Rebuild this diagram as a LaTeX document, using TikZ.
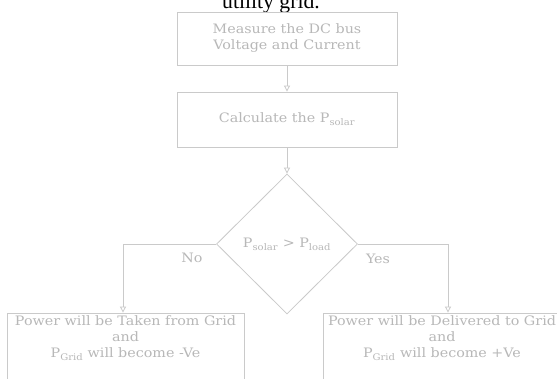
\documentclass[tikz,border=0pt]{standalone}
\usepackage{fontspec}
\setmainfont{DejaVu Serif}
\newfontfamily\boxfont[FakeStretch=1.1]{DejaVu Serif}
\newfontfamily\capfont{Liberation Serif}
\usetikzlibrary{shapes.geometric,arrows.meta}
\definecolor{lc}{HTML}{CACACA}
\definecolor{tc}{HTML}{B8B8B8}
\newcommand{\Psub}[1]{P\textsubscript{#1}}
\tikzset{
 boxnode/.style={draw=lc, line width=0.8pt, minimum width=220pt, text=tc, align=center, inner sep=0pt, font=\boxfont\fontsize{13}{16}\selectfont},
 plainbox/.style={draw=lc, line width=0.8pt, inner sep=0pt},
 txt/.style={text=tc, align=center, inner sep=0pt, font=\boxfont\fontsize{13}{16}\selectfont},
 flow/.style={draw=lc, line width=0.8pt, -{Triangle[open,width=6pt,length=6pt]}},
}
\begin{document}
\begin{tikzpicture}[x=1pt,y=-1pt]
\useasboundingbox (0,0) rectangle (557,378);
\clip (0,0) rectangle (557,378);
\fill[white] (0,0) rectangle (557,378);
\node[font=\capfont\fontsize{21.7}{26}\selectfont, anchor=base, inner sep=0pt] (cap) at (271,8) {utility grid.};
\node[boxnode, minimum height=53pt] (b1) at (287,38.5) {Measure the DC bus\\Voltage and Current};
\node[boxnode, minimum height=55pt] (b2) at (287,119.5) {Calculate the \Psub{solar}};
\node[diamond, draw=lc, line width=0.8pt, minimum width=141pt, minimum height=140pt, inner sep=0pt, text=tc, font=\boxfont\fontsize{13}{16}\selectfont] (d) at (287,244) {\Psub{solar} > \Psub{load}};
\node[plainbox, minimum width=237pt, minimum height=72pt] (b3) at (125.5,349) {};
\node[txt] (t3) at (125.5,338) {Power will be Taken from Grid\\and\\\Psub{Grid} will become -Ve};
\node[plainbox, minimum width=238pt, minimum height=72pt] (b4) at (442,349) {};
\node[txt] (t4) at (442,338) {Power will be Delivered to Grid\\and\\\Psub{Grid} will become +Ve};
\node[txt] (no) at (192,258) {No};
\node[txt] (yes) at (378,259) {Yes};
\draw[flow] (b1) -- (b2);
\draw[flow] (b2) -- (d);
\coordinate (nc) at (123,244);
\coordinate (yc) at (448,244);
\draw[flow] (d.west) -- (nc) -- (nc |- b3.north);
\draw[flow] (d.east) -- (yc) -- (yc |- b4.north);
\end{tikzpicture}
\end{document}
